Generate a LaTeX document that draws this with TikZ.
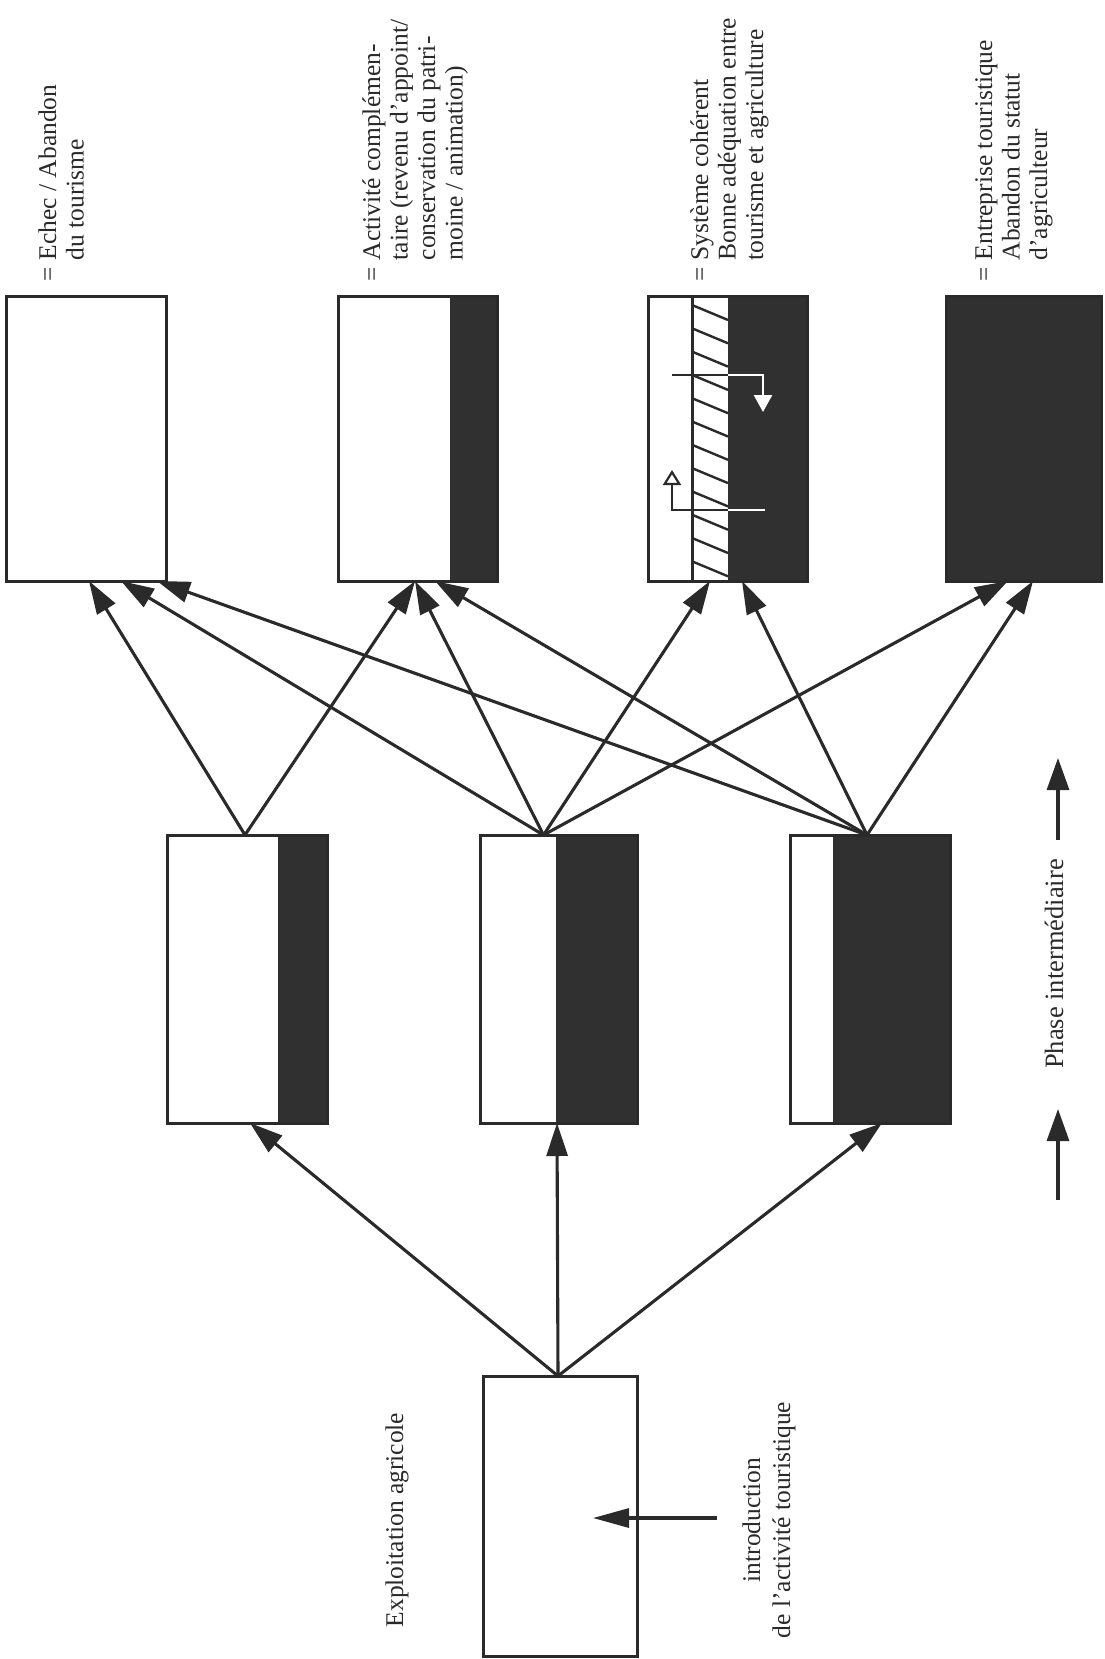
\documentclass[tikz,border=0pt]{standalone}
\usepackage{fontspec}
\setmainfont{Liberation Serif}
\usetikzlibrary{arrows.meta,calc}
\definecolor{ink}{HTML}{2A2A2A}
\definecolor{dk}{HTML}{303030}
\tikzset{
  box/.style={draw=ink, line width=3pt, rectangle, inner sep=0pt, outer sep=0pt, fill=white},
  darkpart/.style={path picture={\fill[dk] ([xshift=#1]path picture bounding box.south west) rectangle (path picture bounding box.north east);}},
  conn/.style={draw=ink, line width=3.1pt, -{Triangle[length=33pt,width=21pt]}},
  conntwo/.style={draw=ink, line width=3.1pt, -{Triangle[length=32pt,width=22pt]}},
  lbl/.style={rotate=90, inner sep=0pt, outer sep=0pt, text=ink, font=\fontsize{25.5}{27.5}\selectfont},
  thinblack/.style={draw=ink, line width=2.2pt},
  thinwhite/.style={draw=white, line width=2.6pt},
}
\begin{document}
\begin{tikzpicture}[x=1pt,y=-1pt]
\path[use as bounding box, fill=white] (0,0) rectangle (1105,1659);

% top row of boxes
\node[box, minimum width=160pt, minimum height=285pt] (T1) at (86,438.5) {};
\node[box, darkpart=112pt, minimum width=159pt, minimum height=285pt] (T2) at (417.5,438.5) {};
\node[box, minimum width=159pt, minimum height=285pt, path picture={
  \fill[dk] ([xshift=80pt]path picture bounding box.south west) rectangle (path picture bounding box.north east);
  \begin{scope}
    \clip ([xshift=44pt]path picture bounding box.south west) rectangle ([xshift=80pt]path picture bounding box.north west);
    \foreach \k in {-1,...,13} \draw[ink, line width=2.4pt] ([shift={(44,9+\k*23.3)}]path picture bounding box.north west) -- ++(36,15);
  \end{scope}
  \draw[ink, line width=3pt] ([xshift=44pt]path picture bounding box.south west) -- ([xshift=44pt]path picture bounding box.north west);
}] (T3) at (727.5,438.5) {};
\node[box, fill=dk, minimum width=155pt, minimum height=285pt] (T4) at (1023.5,438.5) {};

% middle row
\node[box, darkpart=111pt, minimum width=160pt, minimum height=288pt] (M1) at (247,979) {};
\node[box, darkpart=76pt, minimum width=157pt, minimum height=288pt] (M2) at (558.5,979) {};
\node[box, darkpart=43pt, minimum width=160pt, minimum height=288pt] (M3) at (870,979) {};

% bottom box
\node[box, minimum width=154pt, minimum height=280pt] (B) at (560,1516) {};

% arrows from bottom box
\draw[conn] ([xshift=-2pt]B.north) -- ([xshift=3pt]M1.south);
\draw[conn] ([xshift=-2pt]B.north) -- ([xshift=-1.5pt]M2.south);
\draw[conn] ([xshift=-2pt]B.north) -- ([xshift=12pt]M3.south);

% arrows from middle boxes
\draw[conn] ([xshift=-2pt]M1.north) -- ([xshift=3pt]T1.south);
\draw[conn] ([xshift=-2pt]M1.north) -- ([xshift=-2.5pt]T2.south);
\draw[conn] ([xshift=-15pt]M2.north) -- ([xshift=35pt]T1.south);
\draw[conn] ([xshift=-15pt]M2.north) -- ([xshift=-2.5pt]T2.south);
\draw[conn] ([xshift=-15pt]M2.north) -- ([xshift=-17.5pt]T3.south);
\draw[conn] ([xshift=-15pt]M2.north) -- ([xshift=-15.5pt]T4.south);
\draw[conn] ([xshift=-3pt]M3.north) -- ([xshift=71pt]T1.south);
\draw[conn] ([xshift=-3pt]M3.north) -- ([xshift=17.5pt]T2.south);
\draw[conn] ([xshift=-3pt]M3.north) -- ([xshift=14.5pt]T3.south);
\draw[conn] ([xshift=-3pt]M3.north) -- ([xshift=9.5pt]T4.south);

% exchange arrows inside T3
\coordinate (a1) at ([shift={(24,79)}]T3.north west);
\coordinate (a2) at ([shift={(80,79)}]T3.north west);
\coordinate (a3) at ([shift={(115,116)}]T3.north west);
\draw[thinblack] (a1) -- (a2);
\draw[thinwhite, -{Triangle[length=17pt,width=18pt,fill=white]}] (a2) -| (a3);
\coordinate (b1) at ([shift={(117,214)}]T3.north west);
\coordinate (b2) at ([shift={(80,214)}]T3.north west);
\coordinate (b3) at ([shift={(24,174)}]T3.north west);
\draw[thinwhite] (b1) -- (b2);
\draw[thinblack, -{Triangle[open,fill=white,length=15pt,width=18pt]}] (b2) -| (b3);

% introduction arrow
\coordinate (i0) at (717,1518);
\draw[draw=ink, line width=3.1pt, -{Triangle[length=36pt,width=19pt]}] (i0) -- ([shift={(33,2)}]B.center);

% phase arrows
\coordinate (p1) at (1058,1200);
\coordinate (p2) at (1058,1109);
\coordinate (p3) at (1058,840);
\coordinate (p4) at (1058,758);
\draw[conntwo] (p1) -- (p2);
\draw[conntwo] (p3) -- (p4);

% labels
\node[lbl, anchor=base west] (L1) at (56,281) {\begin{tabular}[t]{@{}l@{\ }l@{}}=&Echec / Abandon\\&du tourisme\end{tabular}};
\node[lbl, anchor=base west] (L2) at (380,281) {\begin{tabular}[t]{@{}l@{\ }l@{}}=&Activité complémen-\\&taire (revenu d'appoint/\\&conservation du patri-\\&moine / animation)\end{tabular}};
\node[lbl, anchor=base west] (L3) at (708,281) {\begin{tabular}[t]{@{}l@{\ }l@{}}=&Système cohérent\\&Bonne adéquation entre\\&tourisme et agriculture\end{tabular}};
\node[lbl, anchor=base west] (L4) at (992,281) {\begin{tabular}[t]{@{}l@{\ }l@{}}=&Entreprise touristique\\&Abandon du statut\\&d'agriculteur\end{tabular}};

\node[lbl, anchor=base] (EA) at (403,1520) {Exploitation agricole};
\node[lbl, anchor=base, font=\fontsize{25.5}{30}\selectfont] (IA) at (760,1520) {\begin{tabular}[t]{@{}c@{}}introduction\\de l'activité touristique\end{tabular}};
\node[lbl, anchor=base, font=\fontsize{26.5}{30}\selectfont] (PI) at (1063,964) {Phase intermédiaire};
\end{tikzpicture}
\end{document}
